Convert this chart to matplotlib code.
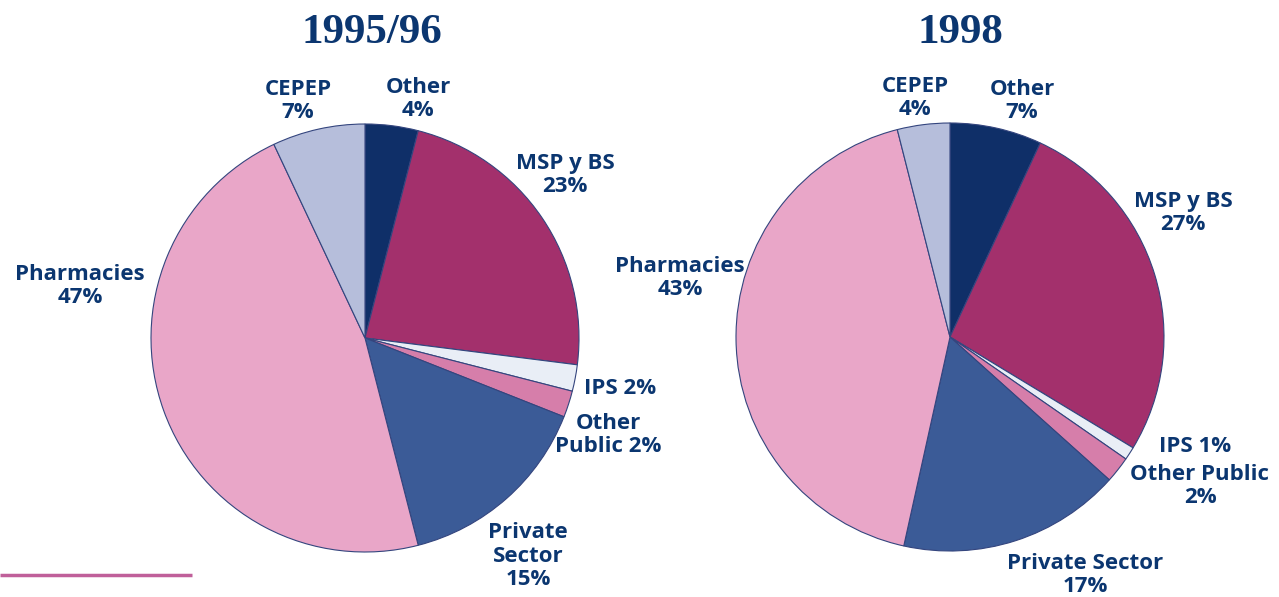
"""Two pies: drug spending share by source, 1995/96 vs 1998."""
import matplotlib
matplotlib.use("Agg")
import matplotlib.pyplot as plt

NAVY = "#0b3670"

sources = ["Other", "MSP y BS", "IPS", "Other Public", "Private Sector", "Pharmacies", "CEPEP"]
colors = ["#0f2f68", "#a3306c", "#e9eef6", "#d67eaa", "#3b5b97", "#e9a6c8", "#b6bedb"]

share_9596 = [4, 23, 2, 2, 15, 47, 7]
share_98 = [7, 27, 1, 2, 17, 43, 4]

labels_9596 = ["Other\n4%", "MSP y BS\n23%", "IPS 2%", "Other\nPublic 2%",
               "Private\nSector\n15%", "Pharmacies\n47%", "CEPEP\n7%"]
labels_98 = ["Other\n7%", "MSP y BS\n27%", "IPS 1%", "Other Public\n2%",
             "Private Sector\n17%", "Pharmacies\n43%", "CEPEP\n4%"]

W, H = 1279, 597
fig = plt.figure(figsize=(W / 100, H / 100), dpi=100)
ax = fig.add_axes([0, 0, 1, 1])


def py(y):
    # pixel row from the top -> data y
    return H - y


def draw(vals, labs, cx, cy, r, label_pos, title, tx):
    ax.pie(vals, colors=colors, startangle=90, counterclock=False,
           center=(cx, py(cy)), radius=r,
           wedgeprops=dict(edgecolor="#34457e", linewidth=0.8))
    for lab, (x, y) in zip(labs, label_pos):
        ax.text(x, py(y), lab, ha="center", va="center", color=NAVY,
                fontsize=16, fontweight="bold", family="Open Sans", linespacing=1.15)
    ax.text(tx, py(33), title, ha="center", va="center", color=NAVY,
            fontsize=31, fontweight="bold", family="Liberation Serif")


draw(share_9596, labels_9596, 365, 338, 214,
     [(418, 99), (565, 175), (620, 388), (608, 435), (528, 556), (80, 286), (298, 101)],
     "1995/96", 372)
draw(share_98, labels_98, 950, 337, 214,
     [(1022, 101), (1183, 213), (1195, 446), (1200, 486), (1085, 575), (680, 278), (915, 98)],
     "1998", 960)

ax.plot([0, 192], [py(575), py(575)], color="#c0609a", linewidth=2.5, solid_capstyle="butt")

ax.set_xlim(0, W); ax.set_ylim(0, H)
ax.set_aspect("equal"); ax.axis("off")
fig.savefig("out.png", dpi=100)
